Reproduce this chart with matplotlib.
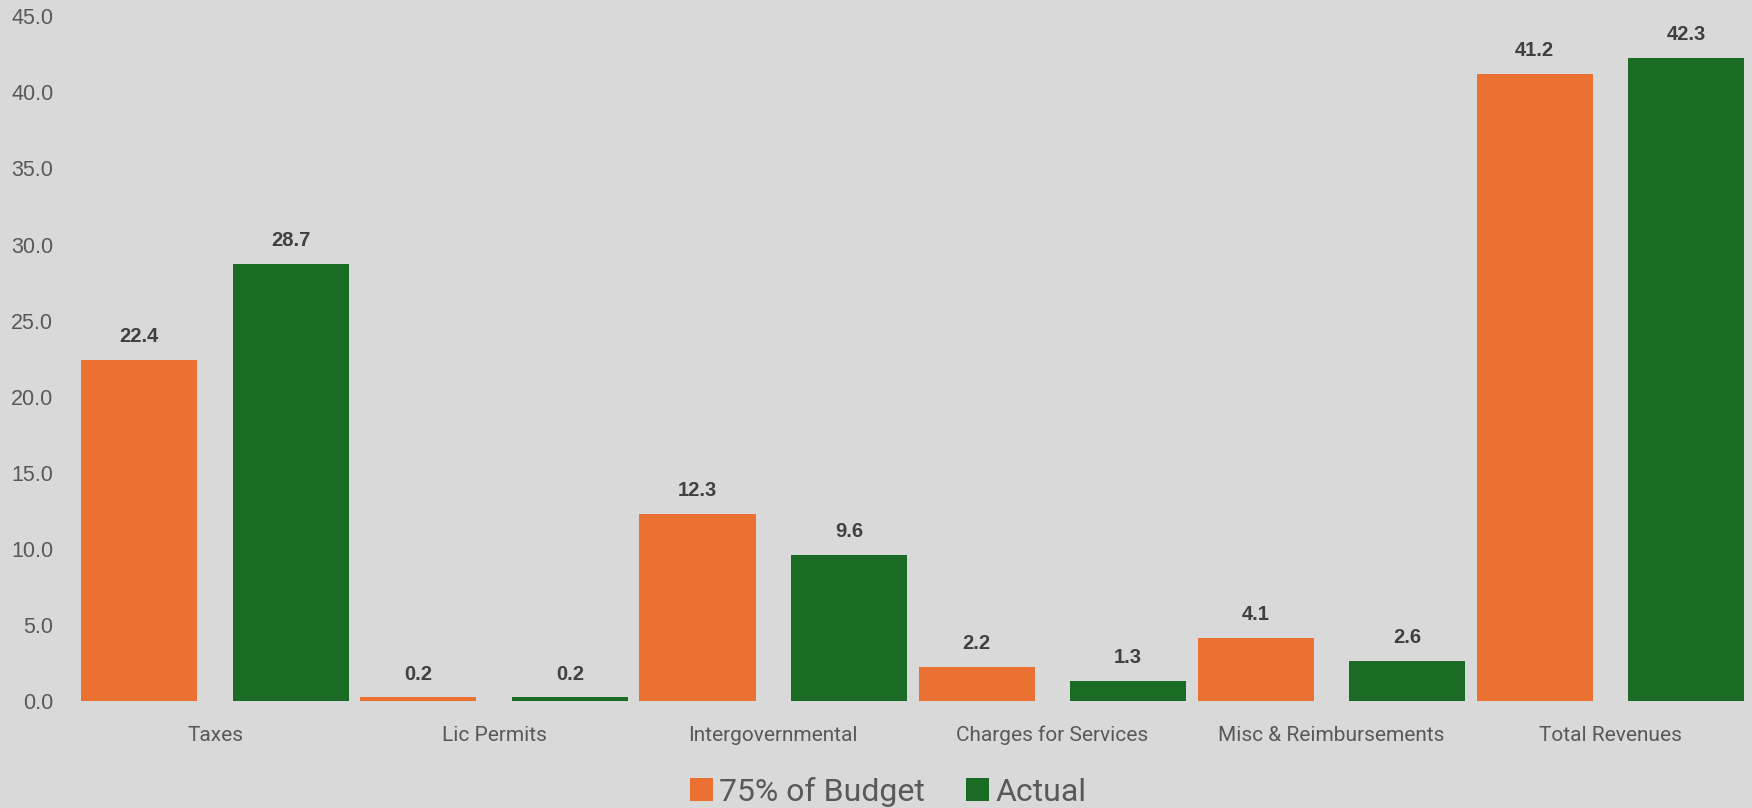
import numpy as np
import matplotlib.pyplot as plt

# Data
categories = ['Taxes', 'Lic Permits', 'Intergovernmental', 'Charges for Services',
              'Misc & Reimbursements', 'Total Revenues']
budget_75 = [22.4, 0.2, 12.3, 2.2, 4.1, 41.2]
actual = [28.7, 0.2, 9.6, 1.3, 2.6, 42.3]
series_names = ['75% of Budget', 'Actual']

orange = '#EA7132'
green = '#1A6B24'
bg = '#D9D9D9'
grey_text = '#595959'
label_text = '#404040'

fig = plt.figure(figsize=(17.52, 8.08), dpi=100, facecolor=bg)
ax = fig.add_axes([0.0431, 0.133, 0.9558, 0.8466], facecolor=bg)

x = np.arange(len(categories))
w = 0.416
off = 0.2715
b1 = ax.bar(x - off, budget_75, w, color=orange, label=series_names[0])
b2 = ax.bar(x + off, actual, w, color=green, label=series_names[1])

# value labels above bars
for bars in (b1, b2):
    for rect in bars:
        h = rect.get_height()
        ax.annotate(f'{h:.1f}', (rect.get_x() + rect.get_width() / 2, h),
                    xytext=(0, 10), textcoords='offset points',
                    ha='center', va='bottom', fontsize=14.5, fontweight='bold',
                    color=label_text, family='Liberation Sans')

ax.set_xlim(-0.5, len(categories) - 0.5)
ax.set_ylim(0, 45)
ax.set_yticks(np.arange(0, 46, 5))
ax.set_yticklabels([f'{v:.1f}' for v in np.arange(0, 46, 5)])
ax.set_xticks(x)
ax.set_xticklabels(categories, family='Roboto', fontsize=15)

for s in ax.spines.values():
    s.set_visible(False)
ax.tick_params(axis='both', length=0, colors=grey_text)
ax.tick_params(axis='y', labelsize=15.5, pad=16)
ax.tick_params(axis='x', pad=18)
for t in ax.get_yticklabels():
    t.set_family('Liberation Sans')

fig.legend(handles=[b1, b2], loc='lower center', bbox_to_anchor=(0.507, -0.034),
           ncol=2, frameon=False, prop={'family': 'Roboto', 'size': 23},
           handlelength=0.7, handleheight=0.7, handletextpad=0.2,
           columnspacing=1.3, labelcolor=grey_text)

fig.savefig('out.png', dpi=100, facecolor=bg)
